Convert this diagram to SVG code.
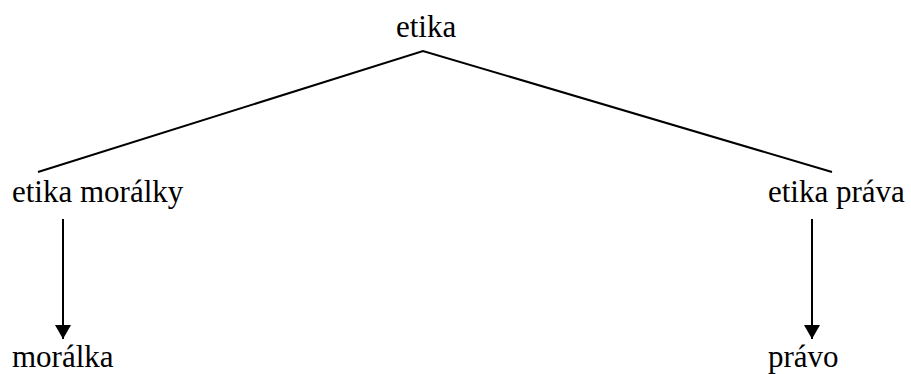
<svg xmlns="http://www.w3.org/2000/svg" width="911" height="374" viewBox="0 0 911 374">
<style>
text{font-family:"Liberation Serif","Times New Roman",serif;font-size:31px;fill:#000}
.ln{stroke:#000;stroke-width:2;fill:none}
</style>
<defs>
<marker id="ah" markerWidth="7" markerHeight="8" refX="7" refY="4" orient="auto" markerUnits="strokeWidth">
<path d="M0,0 L7,4 L0,8 z" fill="#000"/>
</marker>
</defs>
<rect width="911" height="374" fill="#fff"/>
<g id="connectors">
<polyline class="ln" points="38,172 423,51 832,172"/>
<line class="ln" x1="63" y1="219" x2="63" y2="339" marker-end="url(#ah)"/>
<line class="ln" x1="812" y1="219" x2="812" y2="339" marker-end="url(#ah)"/>
</g>
<g id="etika"><text x="396" y="37">etika</text></g>
<g id="etika-moralky"><text x="12" y="202">etika morálky</text></g>
<g id="etika-prava"><text x="768" y="202">etika práva</text></g>
<g id="moralka"><text x="12" y="367">morálka</text></g>
<g id="pravo"><text x="768" y="367">právo</text></g>
</svg>
